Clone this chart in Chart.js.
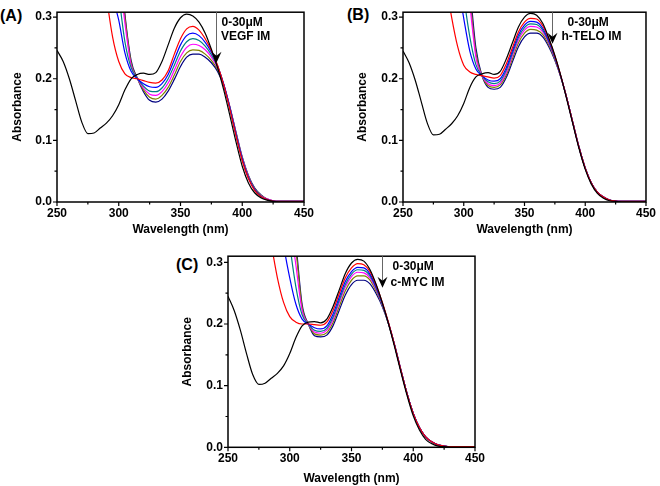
<!DOCTYPE html>
<html>
<head>
<meta charset="utf-8">
<script src="https://cdn.jsdelivr.net/npm/chart.js@4.4.1/dist/chart.umd.min.js"></script>
<style>
  body { margin: 0; width: 660px; height: 486px; background: #fff; position: relative; overflow: hidden;
         font-family: "Liberation Sans", Arial, sans-serif; }
  canvas { position: absolute; }
  .tag { position: absolute; font-weight: bold; font-size: 16px; line-height: 16px; color: #000; }
</style>
</head>
<body>
<div class="tag" style="left:0px;top:8px">(A)</div>
<div class="tag" style="left:347px;top:7px">(B)</div>
<div class="tag" style="left:176px;top:257px">(C)</div>
<canvas id="chartA" width="330" height="243" style="left:0px;top:0px"></canvas>
<canvas id="chartB" width="315" height="243" style="left:345px;top:0px"></canvas>
<canvas id="chartC" width="330" height="242" style="left:170px;top:244px"></canvas>
<script>
// eje X comun (nm)
const WAVELENGTHS = [250,255,260,265,270,275,280,285,290,295,300,305,310,315,320,325,330,335,340,345,
                     350,355,360,365,370,375,380,385,390,395,400,405,410,415,420,425,430,435,440,445,450];
const X_TICKS = [250,275,300,325,350,375,400,425,450];
const Y_TICKS = [0,0.05,0.1,0.15,0.2,0.25,0.3];
const SERIES_COLORS = ['#000000','#ff0000','#0000ff','#008080','#ff00ff','#808000','#000080'];

// (A) VEGF
const A_BLACK = [0.246,0.228,0.200,0.165,0.130,0.111,0.112,0.120,0.128,0.140,0.158,0.182,0.200,0.207,0.209,0.207,0.210,0.228,0.255,0.282,
                 0.299,0.305,0.302,0.292,0.274,0.248,0.218,0.182,0.140,0.097,0.058,0.031,0.015,0.007,0.003,0.001,0,0,0,0,0];
const A_RED = [null,null,null,null,null,null,0.52,0.42,0.335,0.268,0.228,0.208,0.202,0.2,0.197,0.194,0.193,0.198,0.213,0.24,
               0.265,0.281,0.285,0.279,0.265,0.246,0.222,0.19,0.15,0.107,0.067,0.038,0.019,0.009,0.004,0.0015,0.001,0.001,0.001,0.001,0.001];
const A_BLUE = [null,null,null,null,null,null,null,0.5,0.4,0.335,0.295,0.242,0.212,0.2,0.192,0.187,0.186,0.192,0.207,0.231,
                0.255,0.27,0.274,0.27,0.259,0.243,0.221,0.191,0.152,0.109,0.069,0.039,0.02,0.009,0.004,0.0015,0.001,0.001,0.001,0.001,0.001];
const A_TEAL = [null,null,null,null,null,null,null,null,0.5,0.4,0.335,0.26,0.218,0.201,0.188,0.18,0.179,0.185,0.2,0.222,
                0.245,0.26,0.265,0.262,0.253,0.239,0.22,0.191,0.153,0.11,0.07,0.04,0.021,0.01,0.004,0.0015,0.001,0.001,0.001,0.001,0.001];
const A_MAGENTA = [null,null,null,null,null,null,null,null,null,0.45,0.38,0.29,0.222,0.201,0.185,0.175,0.173,0.179,0.193,0.214,
                   0.236,0.251,0.256,0.254,0.247,0.235,0.218,0.191,0.154,0.111,0.071,0.041,0.021,0.01,0.005,0.002,0.001,0.001,0.001,0.001,0.001];
const A_OLIVE = [null,null,null,null,null,null,null,null,null,0.47,0.40,0.30,0.226,0.201,0.182,0.17,0.167,0.173,0.186,0.206,
                 0.228,0.242,0.247,0.246,0.24,0.23,0.215,0.19,0.154,0.112,0.072,0.042,0.022,0.011,0.005,0.002,0.001,0.001,0.001,0.001,0.001];
const A_NAVY = [null,null,null,null,null,null,null,null,null,0.48,0.42,0.305,0.23,0.201,0.179,0.165,0.162,0.167,0.18,0.199,
                0.22,0.235,0.24,0.24,0.235,0.226,0.212,0.189,0.154,0.113,0.073,0.043,0.023,0.012,0.005,0.002,0.001,0.001,0.001,0.001,0.001];

// (B) h-TELO
const B_BLACK = [0.245,0.226,0.198,0.163,0.128,0.109,0.110,0.118,0.127,0.140,0.160,0.186,0.203,0.208,0.210,0.207,0.212,0.232,0.258,0.284,
                 0.300,0.306,0.303,0.290,0.266,0.238,0.204,0.165,0.125,0.086,0.053,0.029,0.014,0.006,0.002,0.001,0,0,0,0,0];
const B_RED = [null,null,null,null,null,null,null,0.36,0.30,0.252,0.222,0.211,0.207,0.205,0.203,0.201,0.205,0.224,0.25,0.276,
               0.292,0.298,0.297,0.286,0.265,0.237,0.204,0.167,0.127,0.088,0.055,0.031,0.016,0.008,0.003,0.0015,0.001,0.001,0.001,0.001,0.001];
const B_BLUE = [null,null,null,null,null,null,null,null,0.45,0.36,0.298,0.245,0.216,0.205,0.198,0.196,0.2,0.218,0.245,0.271,
                0.287,0.293,0.292,0.282,0.262,0.235,0.203,0.167,0.127,0.088,0.055,0.031,0.016,0.008,0.003,0.0015,0.001,0.001,0.001,0.001,0.001];
const B_TEAL = [null,null,null,null,null,null,null,null,null,0.42,0.335,0.268,0.223,0.205,0.195,0.192,0.196,0.214,0.241,0.267,
                0.283,0.289,0.288,0.279,0.26,0.234,0.203,0.167,0.127,0.088,0.055,0.031,0.016,0.008,0.003,0.0015,0.001,0.001,0.001,0.001,0.001];
const B_MAGENTA = [null,null,null,null,null,null,null,null,null,null,0.40,0.32,0.235,0.205,0.192,0.189,0.193,0.21,0.237,0.263,
                   0.279,0.285,0.284,0.276,0.258,0.233,0.203,0.167,0.127,0.088,0.055,0.031,0.016,0.008,0.003,0.0015,0.001,0.001,0.001,0.001,0.001];
const B_OLIVE = [null,null,null,null,null,null,null,null,null,null,0.43,0.335,0.242,0.205,0.189,0.186,0.19,0.206,0.232,0.258,
                 0.274,0.28,0.279,0.272,0.255,0.231,0.202,0.167,0.127,0.088,0.055,0.031,0.016,0.008,0.003,0.0015,0.001,0.001,0.001,0.001,0.001];
const B_NAVY = [null,null,null,null,null,null,null,null,null,null,0.45,0.35,0.25,0.205,0.186,0.183,0.186,0.202,0.227,0.252,
                0.268,0.274,0.274,0.268,0.252,0.23,0.202,0.167,0.127,0.088,0.055,0.031,0.016,0.008,0.003,0.0015,0.001,0.001,0.001,0.001,0.001];

// (C) c-MYC
const C_BLACK = [0.245,0.222,0.190,0.152,0.118,0.102,0.104,0.112,0.120,0.132,0.152,0.178,0.197,0.203,0.204,0.202,0.208,0.228,0.255,0.282,
                 0.299,0.305,0.302,0.288,0.264,0.234,0.200,0.162,0.122,0.084,0.051,0.028,0.013,0.006,0.002,0.001,0,0,0,0,0];
const C_RED = [null,null,null,null,null,null,null,0.33,0.275,0.235,0.212,0.203,0.2,0.2,0.199,0.198,0.203,0.222,0.249,0.275,
               0.291,0.298,0.296,0.285,0.263,0.235,0.202,0.165,0.125,0.087,0.055,0.032,0.017,0.009,0.004,0.002,0.001,0.001,0.001,0.001,0.001];
const C_BLUE = [null,null,null,null,null,null,null,null,0.42,0.33,0.275,0.232,0.208,0.2,0.194,0.192,0.197,0.216,0.243,0.269,
                0.285,0.292,0.291,0.281,0.26,0.233,0.201,0.165,0.125,0.087,0.055,0.032,0.017,0.009,0.004,0.002,0.001,0.001,0.001,0.001,0.001];
const C_TEAL = [null,null,null,null,null,null,null,null,null,0.42,0.33,0.26,0.215,0.2,0.19,0.188,0.193,0.211,0.238,0.264,
                0.281,0.288,0.287,0.278,0.258,0.232,0.201,0.165,0.125,0.087,0.055,0.032,0.017,0.009,0.004,0.002,0.001,0.001,0.001,0.001,0.001];
const C_MAGENTA = [null,null,null,null,null,null,null,null,null,null,0.37,0.295,0.222,0.2,0.187,0.185,0.19,0.207,0.234,0.26,
                   0.277,0.284,0.283,0.275,0.256,0.231,0.201,0.165,0.125,0.087,0.055,0.032,0.017,0.009,0.004,0.002,0.001,0.001,0.001,0.001,0.001];
const C_OLIVE = [null,null,null,null,null,null,null,null,null,null,0.40,0.32,0.228,0.2,0.184,0.182,0.186,0.202,0.228,0.254,
                 0.271,0.278,0.278,0.271,0.253,0.23,0.2,0.165,0.125,0.087,0.055,0.032,0.017,0.009,0.004,0.002,0.001,0.001,0.001,0.001,0.001];
const C_NAVY = [null,null,null,null,null,null,null,null,null,null,0.41,0.33,0.232,0.2,0.181,0.179,0.182,0.197,0.222,0.247,
                0.264,0.271,0.271,0.265,0.249,0.228,0.2,0.165,0.125,0.087,0.055,0.032,0.017,0.009,0.004,0.002,0.001,0.001,0.001,0.001,0.001];

const FONT = { family: '"Liberation Sans", Arial, sans-serif', size: 12, weight: 'bold' };

// marco, ticks hacia fuera y flecha con texto
const panelDecor = {
    id: 'panelDecor',
    afterDraw(chart, args, opts) {
        const { ctx, chartArea: a, scales: { x, y } } = chart;
        ctx.save();
        ctx.strokeStyle = '#000';
        ctx.lineWidth = 1.5;
        ctx.strokeRect(a.left, a.top, a.right - a.left, a.bottom - a.top);

        ctx.lineWidth = 1.2;
        ctx.beginPath();
        Y_TICKS.forEach(v => {
            const py = y.getPixelForValue(v);
            const len = Math.round(v * 100) % 10 === 0 ? 4 : 2.5;
            ctx.moveTo(a.left - len, py);
            ctx.lineTo(a.left, py);
        });
        X_TICKS.forEach(v => {
            const px = x.getPixelForValue(v);
            const len = v % 50 === 0 ? 4 : 2.5;
            ctx.moveTo(px, a.bottom);
            ctx.lineTo(px, a.bottom + len);
        });
        ctx.stroke();

        const ax = Math.round(x.getPixelForValue(opts.arrowAt)) + 0.5;
        const tipY = y.getPixelForValue(opts.arrowTip);
        ctx.strokeStyle = '#666';
        ctx.lineWidth = 1;
        ctx.beginPath();
        ctx.moveTo(ax, a.top);
        ctx.lineTo(ax, tipY - 6);
        ctx.stroke();
        ctx.fillStyle = '#000';
        ctx.beginPath();
        ctx.moveTo(ax - 5, tipY - 11);
        ctx.lineTo(ax, tipY - 7);
        ctx.lineTo(ax + 5, tipY - 11);
        ctx.lineTo(ax, tipY);
        ctx.closePath();
        ctx.fill();

        ctx.font = 'bold 12px "Liberation Sans", Arial, sans-serif';
        ctx.textBaseline = 'middle';
        ctx.textAlign = 'left';
        opts.notes.forEach(n => ctx.fillText(n.text, ax + n.dx, a.top + n.dy));
        ctx.restore();
    }
};

function renderPanel(p) {
    const datasets = p.series.map((vals, i) => ({
        data: WAVELENGTHS.map((w, k) => ({ x: w, y: vals[k] })),
        borderColor: SERIES_COLORS[i],
        borderWidth: 1.2,
        pointRadius: 0,
        fill: false,
        cubicInterpolationMode: 'monotone'
    }));

    new Chart(document.getElementById(p.id), {
        type: 'line',
        data: { datasets: datasets },
        plugins: [panelDecor],
        options: {
            responsive: false,
            animation: false,
            events: [],
            layout: { padding: { left: 0, top: p.padTop, right: p.padRight, bottom: 0 } },
            plugins: {
                legend: { display: false },
                tooltip: { enabled: false },
                panelDecor: { arrowAt: p.arrowAt, arrowTip: p.arrowTip, notes: p.notes }
            },
            scales: {
                x: {
                    type: 'linear', min: 250, max: 450,
                    grid: { display: false, drawTicks: false },
                    border: { display: false },
                    afterBuildTicks: s => { s.ticks = X_TICKS.map(v => ({ value: v })); },
                    afterFit: s => { s.height = p.xHeight; },
                    ticks: { padding: 4, maxRotation: 0, autoSkip: false, color: '#000', font: FONT,
                             callback: v => (v % 50 === 0 ? String(v) : '') },
                    title: { display: true, text: 'Wavelength (nm)', color: '#000', font: FONT,
                             padding: { top: 0, bottom: p.xTitlePad } }
                },
                y: {
                    min: 0, max: p.yMax,
                    grid: { display: false, drawTicks: false },
                    border: { display: false },
                    afterBuildTicks: s => { s.ticks = Y_TICKS.map(v => ({ value: v })); },
                    afterFit: s => { s.width = p.yWidth; },
                    ticks: { padding: 5, autoSkip: false, color: '#000', font: FONT,
                             callback: v => (Math.round(v * 100) % 10 === 0 ? v.toFixed(1) : '') },
                    title: { display: true, text: 'Absorbance', color: '#000', font: FONT,
                             padding: { top: 10.5, bottom: 0 } }
                }
            }
        }
    });
}

renderPanel({
    id: 'chartA',
    series: [A_BLACK, A_RED, A_BLUE, A_TEAL, A_MAGENTA, A_OLIVE, A_NAVY],
    yMax: 0.308, padTop: 2, padRight: 26, yWidth: 57, xHeight: 41, xTitlePad: 5.8,
    arrowAt: 379, arrowTip: 0.226,
    notes: [{ text: '0-30\u03BCM', dx: 5, dy: 10 }, { text: 'VEGF IM', dx: 4.5, dy: 24 }]
});
renderPanel({
    id: 'chartB',
    series: [B_BLACK, B_RED, B_BLUE, B_TEAL, B_MAGENTA, B_OLIVE, B_NAVY],
    yMax: 0.308, padTop: 2, padRight: 10, yWidth: 58, xHeight: 41, xTitlePad: 5.8,
    arrowAt: 373, arrowTip: 0.257,
    notes: [{ text: '0-30\u03BCM', dx: 15, dy: 10 }, { text: 'h-TELO IM', dx: 9, dy: 24 }]
});
renderPanel({
    id: 'chartC',
    series: [C_BLACK, C_RED, C_BLUE, C_TEAL, C_MAGENTA, C_OLIVE, C_NAVY],
    yMax: 0.31, padTop: 2, padRight: 25, yWidth: 58, xHeight: 38.7, xTitlePad: 0.5,
    arrowAt: 374.5, arrowTip: 0.259,
    notes: [{ text: '0-30\u03BCM', dx: 10, dy: 10 }, { text: 'c-MYC IM', dx: 8, dy: 26 }]
});
</script>
</body>
</html>
